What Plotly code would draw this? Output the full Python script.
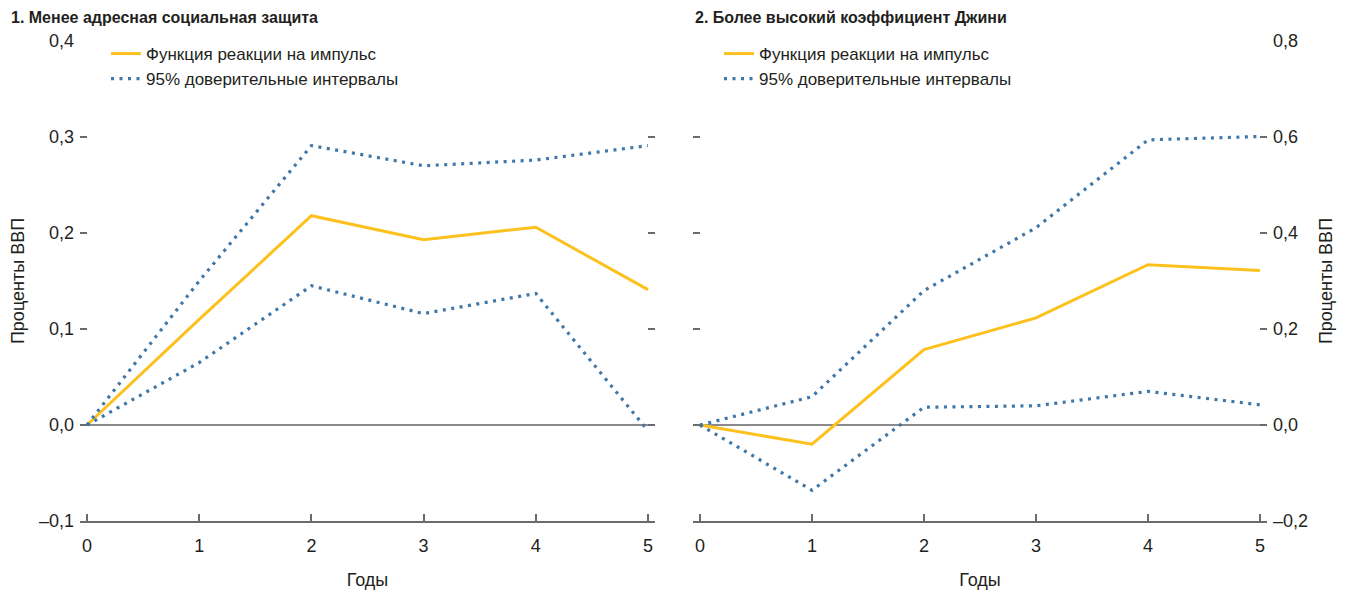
import plotly.graph_objects as go

# ---------------- data ----------------
years = [0, 1, 2, 3, 4, 5]

# Panel 1: less targeted social protection (percent of GDP)
p1_irf = [0.0, 0.110, 0.218, 0.193, 0.206, 0.141]
p1_upper = [0.0, 0.150, 0.291, 0.270, 0.276, 0.291]
p1_lower = [0.0, 0.065, 0.145, 0.116, 0.137, -0.006]

# Panel 2: higher Gini coefficient (percent of GDP)
p2_irf = [0.0, -0.040, 0.157, 0.223, 0.334, 0.322]
p2_upper = [0.0, 0.059, 0.280, 0.411, 0.594, 0.601]
p2_lower = [0.0, -0.136, 0.037, 0.040, 0.070, 0.042]

p1_yticks = [-0.1, 0.0, 0.1, 0.2, 0.3, 0.4]
p1_yticktext = ["–0,1", "0,0", "0,1", "0,2", "0,3", "0,4"]
p2_yticks = [-0.2, 0.0, 0.2, 0.4, 0.6, 0.8]
p2_yticktext = ["–0,2", "0,0", "0,2", "0,4", "0,6", "0,8"]

titles = ["1. Менее адресная социальная защита", "2. Более высокий коэффициент Джини"]
name_irf = "Функция реакции на импульс"
name_ci = "95% доверительные интервалы"
y_title = "Проценты ВВП"
x_title = "Годы"

# ---------------- styles ----------------
FONT = "Liberation Sans, Arial, sans-serif"
ORANGE = "#FDC11E"
BLUE = "#3F77A8"
GRAY = "#8A8A8A"
DARK = "#6B6B6B"
TXT = "#231F20"

W, H = 1349, 592
OFF = 8  # page body margin offset
def px_x(p):
    return (p - OFF) / W
def px_y(p):
    return 1 - (p - OFF) / H

fig = go.Figure()

def add_panel(irf, up, lo, xa, ya, legend):
    fig.add_trace(go.Scatter(x=years, y=irf, mode="lines", name=name_irf,
                             line=dict(color=ORANGE, width=3),
                             xaxis=xa, yaxis=ya, legend=legend, showlegend=True))
    fig.add_trace(go.Scatter(x=years, y=up, mode="lines", name=name_ci,
                             line=dict(color=BLUE, width=3.2, dash="3px,5.5px"),
                             xaxis=xa, yaxis=ya, legend=legend, showlegend=True))
    fig.add_trace(go.Scatter(x=years, y=lo, mode="lines", name=name_ci,
                             line=dict(color=BLUE, width=3.2, dash="3px,5.5px"),
                             xaxis=xa, yaxis=ya, legend=legend, showlegend=False))

add_panel(p1_irf, p1_upper, p1_lower, "x", "y", "legend")
add_panel(p2_irf, p2_upper, p2_lower, "x2", "y2", "legend2")

xr = [-0.0625, 5.0625]
ydom = [px_y(521), px_y(41)]

xcommon = dict(range=xr, tickvals=years, ticks="inside", ticklen=7, tickwidth=1.5,
               tickcolor=DARK, showline=True, linecolor=DARK, linewidth=2,
               showgrid=False, zeroline=False, fixedrange=True, automargin=False,
               tickfont=dict(family=FONT, size=18, color=TXT),
               ticklabelstandoff=7,
               title=dict(text=x_title, font=dict(family=FONT, size=18, color=TXT), standoff=19))
ycommon = dict(ticks="inside", ticklen=7, tickwidth=2, tickcolor=DARK,
               mirror="ticks", showline=False, showgrid=False,
               zeroline=True, zerolinecolor=GRAY, zerolinewidth=2,
               fixedrange=True, domain=ydom, automargin=False,
               tickfont=dict(family=FONT, size=18, color=TXT))

fig.update_layout(
    width=W, height=H,
    margin=dict(l=0, r=0, t=0, b=0, autoexpand=False),
    paper_bgcolor="white", plot_bgcolor="white",
    font=dict(family=FONT, color=TXT),
    xaxis=dict(xcommon, domain=[px_x(80), px_x(655)], anchor="y"),
    yaxis=dict(ycommon, range=[-0.1, 0.4], tickvals=p1_yticks, ticktext=p1_yticktext,
               side="left", anchor="x", ticklabelstandoff=5,
               title=dict(text=y_title, font=dict(family=FONT, size=18, color=TXT), standoff=12)),
    xaxis2=dict(xcommon, domain=[px_x(693), px_x(1267)], anchor="y2"),
    yaxis2=dict(ycommon, range=[-0.2, 0.8], tickvals=p2_yticks, ticktext=p2_yticktext,
                side="right", anchor="x2", ticklabelstandoff=5,
                title=dict(text=y_title, font=dict(family=FONT, size=18, color=TXT), standoff=12)),
    legend=dict(x=px_x(106), y=px_y(36), xanchor="left", yanchor="top",
                bgcolor="rgba(0,0,0,0)", font=dict(family=FONT, size=17, color=TXT),
                tracegroupgap=0, itemwidth=30),
    legend2=dict(x=px_x(719), y=px_y(36), xanchor="left", yanchor="top",
                 bgcolor="rgba(0,0,0,0)", font=dict(family=FONT, size=17, color=TXT),
                 tracegroupgap=0, itemwidth=30),
    annotations=[
        dict(text="<b>" + titles[0] + "</b>", x=px_x(9), y=px_y(18), xref="paper", yref="paper",
             xanchor="left", yanchor="middle", showarrow=False,
             font=dict(family=FONT, size=16, color=TXT)),
        dict(text="<b>" + titles[1] + "</b>", x=px_x(693), y=px_y(18), xref="paper", yref="paper",
             xanchor="left", yanchor="middle", showarrow=False,
             font=dict(family=FONT, size=16, color=TXT)),
    ],
)

fig.write_html("out.html")
